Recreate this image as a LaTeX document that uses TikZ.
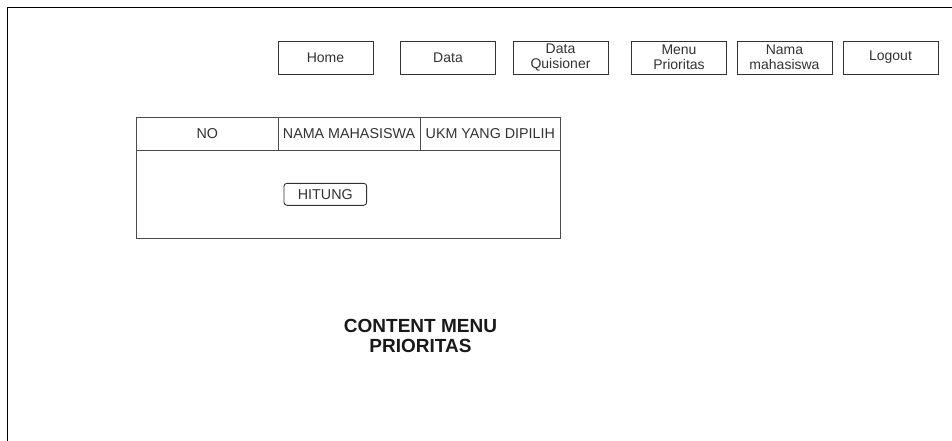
\documentclass[tikz,border=0pt]{standalone}
\usepackage{fontspec}
\setmainfont{Liberation Sans}
\begin{document}
\begin{tikzpicture}[x=1pt,y=-1pt,
  navbtn/.style={draw=black!80,line width=0.9pt,minimum width=95pt,minimum height=33pt,
    inner sep=0pt,font=\fontsize{14}{15.5}\selectfont,text=black!80,align=center},
  cell/.style={font=\fontsize{14.3}{16}\selectfont,text=black!80},
  gridline/.style={draw=black!70,line width=0.9pt}]
\useasboundingbox[fill=white] (0,0) rectangle (952,441);
% page frame, open at the right and bottom
\draw[line width=1.3pt] (952,7.7) -- (7.3,7.7) -- (7.3,441);
% navigation bar
\node[navbtn] (home) at (325.5,57.5) {Home};
\node[navbtn] (data) at (448,57.5) {Data};
\node[navbtn] (quis) at (560.5,57.5) {Data\\Quisioner};
\node[navbtn] (menu) at (679,57.5) {Menu\\Prioritas};
\node[navbtn] (nama) at (784.5,57.5) {Nama\\mahasiswa};
\node[navbtn] (logout) at (890.5,57.5) {Logout};
% table
\draw[gridline] (136.7,117.3) rectangle (560.7,238);
\draw[gridline] (136.7,150) -- (560.7,150);
\draw[gridline] (278,117.3) -- (278,150);
\draw[gridline] (420,117.3) -- (420,150);
\node[cell] (no) at (207.3,133.7) {NO};
\node[cell] (nm) at (349,133.7) {NAMA MAHASISWA};
\node[cell] (ukm) at (490.3,133.7) {UKM YANG DIPILIH};
\node[draw=black!80,line width=0.9pt,rounded corners=3pt,minimum width=82.7pt,minimum height=22pt,
  inner sep=0pt,cell] (hitung) at (325.3,194.3) {HITUNG};
% content caption
\node[font=\bfseries\fontsize{19}{20.7}\selectfont,text=black!90,align=center] (content) at (420.5,336)
  {CONTENT MENU\\PRIORITAS};
\end{tikzpicture}
\end{document}
